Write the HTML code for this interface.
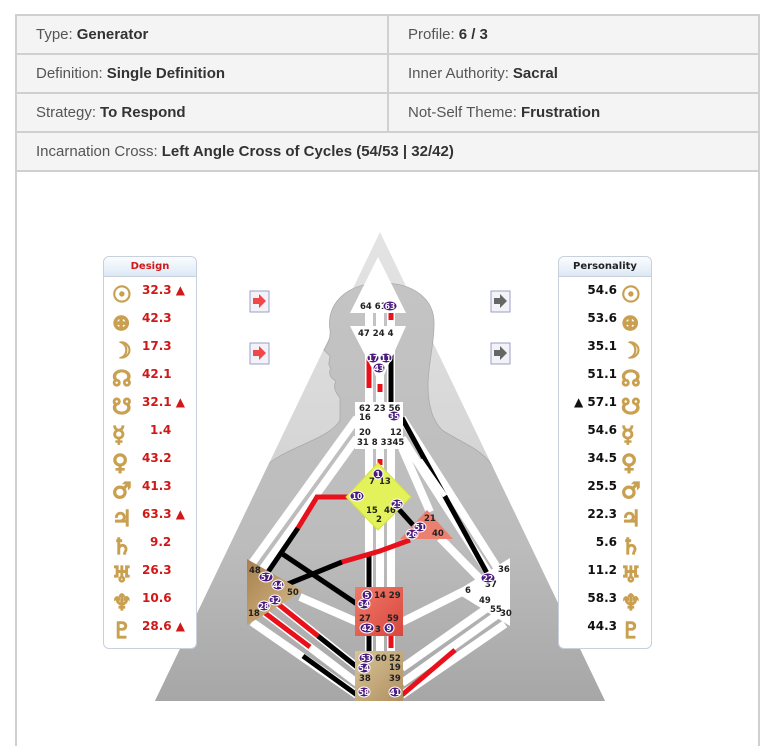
<!DOCTYPE html>
<html><head><meta charset="utf-8"><style>
body{margin:0;width:773px;height:728px;background:#fff;font-family:"Liberation Sans",sans-serif;position:relative;overflow:hidden}
.box{position:absolute;left:15px;top:14px;width:741px;height:730px;border:2px solid #d0d0d0;border-bottom:none}
.row{position:absolute;left:0;width:741px;height:37px;background:#f4f4f4;border-bottom:2px solid #d0d0d0}
.c{position:absolute;top:0;height:37px;line-height:37px;font-size:15px;color:#555}
.c b{color:#333;margin-left:4px}
.div{position:absolute;left:370px;top:0;width:2px;height:37px;background:#d0d0d0}
.panel{position:absolute;top:256px;width:92px;height:391px;border:1px solid #c8d0dc;border-radius:6px;background:#fff}
.ph{height:19px;border-radius:6px 6px 0 0;background:linear-gradient(#fbfdff,#dde8f6);border-bottom:1px solid #c8d0dc;font:bold 10px "DejaVu Sans",sans-serif;text-align:center;line-height:19px}
.pr{position:absolute;height:28px;line-height:28px;font:bold 12px "DejaVu Sans",sans-serif;white-space:nowrap}
.sym{color:#c9a050;font:bold 22px "DejaVu Sans",sans-serif;-webkit-text-stroke:1.3px #c9a050;position:absolute;top:0}
</style></head><body>
<div class="box">
<div class="row" style="top:0"><div class="c" style="left:19px">Type:<b>Generator</b></div><div class="div"></div><div class="c" style="left:391px">Profile:<b>6 / 3</b></div></div>
<div class="row" style="top:39px"><div class="c" style="left:19px">Definition:<b>Single Definition</b></div><div class="div"></div><div class="c" style="left:391px">Inner Authority:<b>Sacral</b></div></div>
<div class="row" style="top:78px"><div class="c" style="left:19px">Strategy:<b>To Respond</b></div><div class="div"></div><div class="c" style="left:391px">Not-Self Theme:<b>Frustration</b></div></div>
<div class="row" style="top:117px"><div class="c" style="left:19px">Incarnation Cross:<b>Left Angle Cross of Cycles (54/53 | 32/42)</b></div></div>
</div>

<svg width="773" height="728" style="position:absolute;left:0;top:0">
<defs>
<linearGradient id="tg" x1="0" y1="0" x2="0" y2="1"><stop offset="0" stop-color="#e4e4e4"/><stop offset="0.45" stop-color="#d6d6d6"/><stop offset="1" stop-color="#a6a6a6"/></linearGradient>
<linearGradient id="sg" x1="0" y1="0" x2="0" y2="1"><stop offset="0" stop-color="#c4c4c4"/><stop offset="0.6" stop-color="#bcbcbc"/><stop offset="1" stop-color="#a4a4a4"/></linearGradient>
<clipPath id="tc"><polygon points="380,232 155,701 605,701"/><rect x="315" y="270" width="130" height="170"/></clipPath>
<linearGradient id="sp" x1="0" y1="0" x2="1" y2="1"><stop offset="0" stop-color="#a87f4e"/><stop offset="1" stop-color="#d8c08e"/></linearGradient>
<linearGradient id="rt" x1="0" y1="0" x2="1" y2="1"><stop offset="0" stop-color="#d8c598"/><stop offset="1" stop-color="#b08f60"/></linearGradient>
<linearGradient id="sc" x1="0" y1="0" x2="1" y2="1"><stop offset="0" stop-color="#f07a6a"/><stop offset="1" stop-color="#d8473c"/></linearGradient>
</defs>
<polygon points="380,232 155,701 605,701" fill="url(#tg)"/>
<g clip-path="url(#tc)">
<path d="M340,420 L340,398 C335,392 333,386 336,381 C330,378 328,373 331,368 C327,365 330,360 330,356 L324,350 C328,343 331,338 330,330 C326,305 345,283 382,283 C415,283 435,300 434,325 C434,345 428,365 428,385 C428,405 432,420 442,430 C460,442 480,448 492,465 L640,720 L120,720 L262,470 C280,448 330,440 340,420 Z" fill="url(#sg)" stroke="#aaa" stroke-width="0.8"/>
</g>
<!-- channels -->
<g stroke-linecap="butt" fill="none">
<g stroke="#fff" stroke-width="8">
<line x1="369" y1="313" x2="369" y2="402"/><line x1="380" y1="313" x2="380" y2="402"/><line x1="391" y1="313" x2="391" y2="402"/>
<line x1="369" y1="448" x2="369" y2="587"/><line x1="380" y1="448" x2="380" y2="587"/><line x1="391" y1="448" x2="391" y2="587"/>
<line x1="369" y1="636" x2="369" y2="652"/><line x1="380" y1="636" x2="380" y2="652"/><line x1="391" y1="636" x2="391" y2="652"/>
<line x1="357" y1="418" x2="250" y2="566"/><line x1="357" y1="438" x2="262" y2="570"/>
<line x1="402" y1="418" x2="500" y2="572"/><line x1="402" y1="438" x2="492" y2="578"/><line x1="402" y1="448" x2="430" y2="512"/>
<line x1="440" y1="538" x2="485" y2="584"/>
<line x1="300" y1="597" x2="357" y2="622"/><line x1="402" y1="622" x2="466" y2="590"/>
<line x1="278" y1="604" x2="357" y2="667"/><line x1="265" y1="613" x2="357" y2="683"/><line x1="252" y1="622" x2="357" y2="695"/>
<line x1="490" y1="606" x2="402" y2="668"/><line x1="497" y1="615" x2="402" y2="683"/><line x1="505" y1="624" x2="402" y2="695"/>
</g>
<g stroke-width="5">
<line x1="391" y1="335" x2="391" y2="402" stroke="#000"/>
<line x1="369" y1="340" x2="369" y2="388" stroke="#e8101a"/>
<line x1="380" y1="384" x2="380" y2="392" stroke="#e8101a"/>
<line x1="391" y1="313" x2="391" y2="320" stroke="#e8101a"/>
<line x1="380" y1="459" x2="380" y2="465" stroke="#e8101a"/>
<line x1="402" y1="418" x2="488" y2="575" stroke="#000"/>
<line x1="420" y1="460" x2="445" y2="496" stroke="#fff"/>
<line x1="369" y1="555" x2="369" y2="590" stroke="#000"/>
<line x1="369" y1="636" x2="369" y2="652" stroke="#000"/>
<line x1="391" y1="636" x2="391" y2="648" stroke="#e8101a"/>
<polyline points="350,497 317,497 298,528" stroke="#e8101a"/>
<line x1="298" y1="528" x2="268" y2="572" stroke="#000"/>
<line x1="281" y1="553" x2="357" y2="604" stroke="#000"/>
<line x1="283" y1="586" x2="342" y2="562" stroke="#000"/>
<polyline points="342,562 380,551 410,540" stroke="#e8101a"/>
<line x1="395" y1="505" x2="413" y2="525" stroke="#000"/>
<line x1="278" y1="604" x2="318" y2="636" stroke="#e8101a"/><line x1="318" y1="636" x2="357" y2="667" stroke="#000"/>
<line x1="265" y1="613" x2="310" y2="647" stroke="#e8101a"/>
<line x1="303" y1="656" x2="357" y2="695" stroke="#000"/>
<line x1="455" y1="650" x2="402" y2="695" stroke="#e8101a"/>
</g>
</g>
<!-- centers -->
<polygon points="378,257 350,313 406,313" fill="#fff"/>
<polygon points="350,326 406,326 380,384" fill="#fff"/>
<rect x="355" y="402" width="48" height="47" fill="#fff"/>
<polygon points="378,463 411,497 378,530 346,497" fill="#e3f25a" stroke="#d6e040"/>
<polygon points="427,510 453,539 400,539" fill="#ec8070"/>
<polygon points="247,559 303,591 247,625" fill="url(#sp)"/>
<polygon points="510,558 510,626 455,592" fill="#fff"/>
<rect x="355" y="587" width="48" height="49" fill="url(#sc)"/>
<rect x="355" y="651" width="48" height="50" fill="url(#rt)"/>
<g font-family="DejaVu Sans,sans-serif" font-size="8.5" font-weight="bold" fill="#222">
<text x="360" y="309">64 61</text><text x="358" y="336">47 24 4</text>
<text x="359" y="411">62 23 56</text><text x="359" y="420">16</text><text x="359" y="435">20</text><text x="390" y="435">12</text><text x="357" y="445">31 8 3345</text>
<text x="369" y="484">7</text><text x="379" y="484">13</text><text x="366" y="513">15</text><text x="384" y="513">46</text><text x="376" y="522">2</text>
<text x="424" y="521">21</text><text x="432" y="536">40</text>
<text x="249" y="573">48</text><text x="287" y="595">50</text><text x="248" y="616">18</text>
<text x="498" y="572">36</text><text x="485" y="587">37</text><text x="465" y="593">6</text><text x="479" y="603">49</text><text x="490" y="612">55</text><text x="500" y="616">30</text>
<text x="374" y="598">14 29</text><text x="359" y="621">27</text><text x="387" y="621">59</text><text x="375" y="632">3</text>
<text x="375" y="661">60</text><text x="389" y="661">52</text><text x="389" y="670">19</text><text x="359" y="681">38</text><text x="389" y="681">39</text>
</g>
<g font-family="DejaVu Sans,sans-serif" font-size="7.5" font-weight="bold" fill="#fff" text-anchor="middle">
<g fill="#4a1a7e" stroke="#fff" stroke-width="1">
<ellipse cx="390" cy="306" rx="7" ry="5"/><ellipse cx="373" cy="358" rx="6" ry="5"/><ellipse cx="386" cy="358" rx="6" ry="5"/><ellipse cx="379" cy="368" rx="6" ry="5"/>
<ellipse cx="394" cy="416" rx="6" ry="5"/><ellipse cx="378" cy="474" rx="5" ry="5"/><ellipse cx="357" cy="496" rx="7" ry="5"/><ellipse cx="397" cy="504" rx="6" ry="5"/>
<ellipse cx="420" cy="527" rx="6" ry="5"/><ellipse cx="412" cy="534" rx="6" ry="5"/>
<ellipse cx="266" cy="577" rx="7" ry="5"/><ellipse cx="278" cy="585" rx="6" ry="5"/><ellipse cx="275" cy="600" rx="6" ry="5"/><ellipse cx="264" cy="606" rx="6" ry="5"/>
<ellipse cx="488" cy="578" rx="7" ry="5"/>
<ellipse cx="367" cy="595" rx="5" ry="5"/><ellipse cx="364" cy="604" rx="6" ry="5"/><ellipse cx="367" cy="628" rx="7" ry="5"/><ellipse cx="389" cy="628" rx="5" ry="5"/>
<ellipse cx="366" cy="658" rx="7" ry="5"/><ellipse cx="364" cy="668" rx="6" ry="5"/><ellipse cx="364" cy="692" rx="6" ry="5"/><ellipse cx="395" cy="692" rx="6" ry="5"/>
</g>
<text x="390" y="309">63</text><text x="373" y="361">17</text><text x="386" y="361">11</text><text x="379" y="371">43</text>
<text x="394" y="419">35</text><text x="378" y="477">1</text><text x="357" y="499">10</text><text x="397" y="507">25</text>
<text x="420" y="530">51</text><text x="412" y="537">26</text>
<text x="266" y="580">57</text><text x="278" y="588">44</text><text x="275" y="603">32</text><text x="264" y="609">28</text>
<text x="488" y="581">22</text>
<text x="367" y="598">5</text><text x="364" y="607">34</text><text x="367" y="631">42</text><text x="389" y="631">9</text>
<text x="366" y="661">53</text><text x="364" y="671">54</text><text x="364" y="695">58</text><text x="395" y="695">41</text>
</g>
<!-- arrow icons -->
<g>
<rect x="250" y="291" width="19" height="21" fill="#f2f2f8" stroke="#9aa0c0"/><path d="M253,298 h6 v-4 l7,7 l-7,7 v-4 h-6z" fill="#f04848"/>
<rect x="250" y="343" width="19" height="21" fill="#f2f2f8" stroke="#9aa0c0"/><path d="M253,350 h6 v-4 l7,7 l-7,7 v-4 h-6z" fill="#f04848"/>
<rect x="491" y="291" width="19" height="21" fill="#f2f2f8" stroke="#9aa0c0"/><path d="M494,298 h6 v-4 l7,7 l-7,7 v-4 h-6z" fill="#666"/>
<rect x="491" y="343" width="19" height="21" fill="#f2f2f8" stroke="#9aa0c0"/><path d="M494,350 h6 v-4 l7,7 l-7,7 v-4 h-6z" fill="#666"/>
</g>
</svg>

<div class="panel" style="left:103px"><div class="ph" style="color:#d01818">Design</div>
<div style="position:absolute;left:0;top:26px;width:92px;color:#d01818">
<div class="pr" style="top:0"><span class="sym" style="left:8px">☉</span><span style="position:absolute;left:38px">32.3 ▲</span></div>
<div class="pr" style="top:28px"><span class="sym" style="left:8px">⊕</span><span style="position:absolute;left:38px">42.3</span></div>
<div class="pr" style="top:56px"><span class="sym" style="left:8px">☽</span><span style="position:absolute;left:38px">17.3</span></div>
<div class="pr" style="top:84px"><span class="sym" style="left:8px">☊</span><span style="position:absolute;left:38px">42.1</span></div>
<div class="pr" style="top:112px"><span class="sym" style="left:8px">☋</span><span style="position:absolute;left:38px">32.1 ▲</span></div>
<div class="pr" style="top:140px"><span class="sym" style="left:8px">☿</span><span style="position:absolute;left:46px">1.4</span></div>
<div class="pr" style="top:168px"><span class="sym" style="left:8px">♀</span><span style="position:absolute;left:38px">43.2</span></div>
<div class="pr" style="top:196px"><span class="sym" style="left:8px">♂</span><span style="position:absolute;left:38px">41.3</span></div>
<div class="pr" style="top:224px"><span class="sym" style="left:8px">♃</span><span style="position:absolute;left:38px">63.3 ▲</span></div>
<div class="pr" style="top:252px"><span class="sym" style="left:8px">♄</span><span style="position:absolute;left:46px">9.2</span></div>
<div class="pr" style="top:280px"><span class="sym" style="left:8px">♅</span><span style="position:absolute;left:38px">26.3</span></div>
<div class="pr" style="top:308px"><span class="sym" style="left:8px">♆</span><span style="position:absolute;left:38px">10.6</span></div>
<div class="pr" style="top:336px"><span class="sym" style="left:8px">♇</span><span style="position:absolute;left:38px">28.6 ▲</span></div>
</div></div>

<div class="panel" style="left:558px"><div class="ph" style="color:#222">Personality</div>
<div style="position:absolute;left:0;top:26px;width:92px;color:#111">
<div class="pr" style="top:0;right:34px">54.6</div><div class="pr" style="top:28px;right:34px">53.6</div><div class="pr" style="top:56px;right:34px">35.1</div><div class="pr" style="top:84px;right:34px">51.1</div><div class="pr" style="top:112px;right:34px">▲ 57.1</div><div class="pr" style="top:140px;right:34px">54.6</div><div class="pr" style="top:168px;right:34px">34.5</div><div class="pr" style="top:196px;right:34px">25.5</div><div class="pr" style="top:224px;right:34px">22.3</div><div class="pr" style="top:252px;right:34px">5.6</div><div class="pr" style="top:280px;right:34px">11.2</div><div class="pr" style="top:308px;right:34px">58.3</div><div class="pr" style="top:336px;right:34px">44.3</div>
<div class="pr" style="top:0;left:62px"><span class="sym">☉</span></div><div class="pr" style="top:28px;left:62px"><span class="sym">⊕</span></div><div class="pr" style="top:56px;left:62px"><span class="sym">☽</span></div><div class="pr" style="top:84px;left:62px"><span class="sym">☊</span></div><div class="pr" style="top:112px;left:62px"><span class="sym">☋</span></div><div class="pr" style="top:140px;left:62px"><span class="sym">☿</span></div><div class="pr" style="top:168px;left:62px"><span class="sym">♀</span></div><div class="pr" style="top:196px;left:62px"><span class="sym">♂</span></div><div class="pr" style="top:224px;left:62px"><span class="sym">♃</span></div><div class="pr" style="top:252px;left:62px"><span class="sym">♄</span></div><div class="pr" style="top:280px;left:62px"><span class="sym">♅</span></div><div class="pr" style="top:308px;left:62px"><span class="sym">♆</span></div><div class="pr" style="top:336px;left:62px"><span class="sym">♇</span></div>
</div></div>
</body></html>
